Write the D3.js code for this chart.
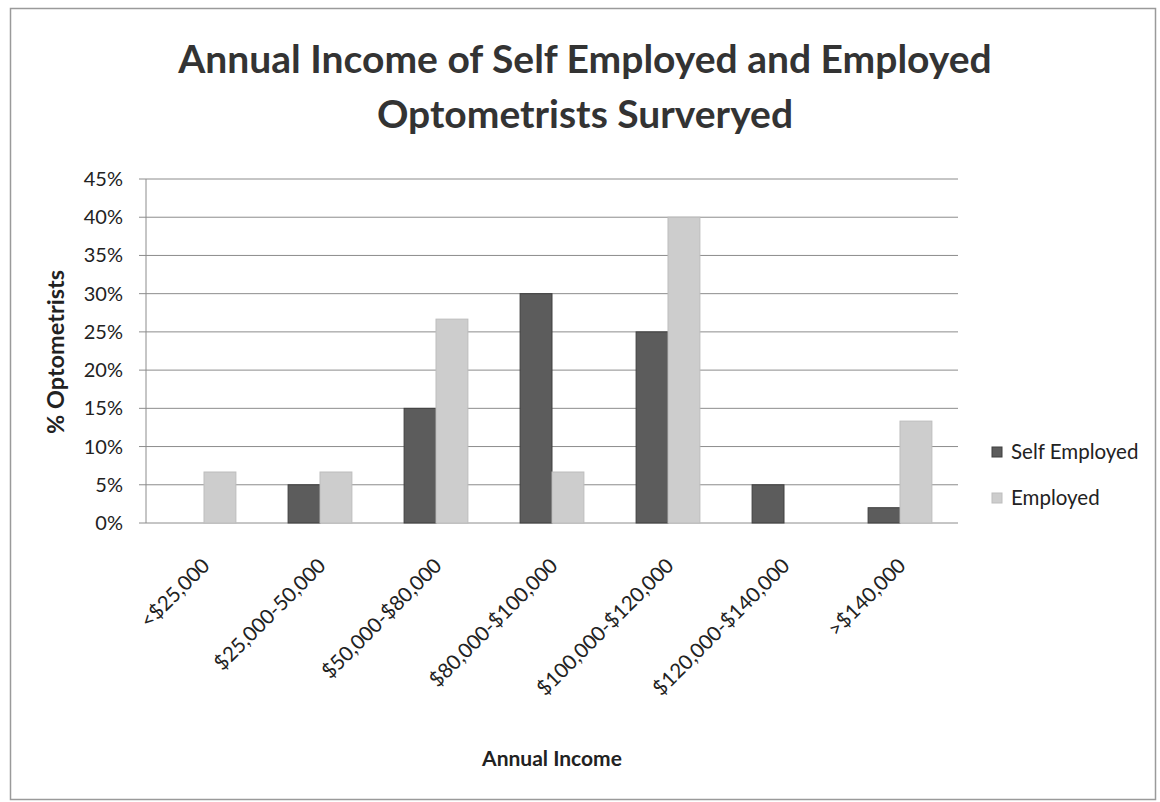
<html>
<head>
<script src="https://d3js.org/d3.v7.min.js"></script>
<style>
    body { margin: 0; background: #fff; }
    text { font-family: Lato, "Open Sans", sans-serif; fill: #222; }
</style>
</head>
<body>
</body>
<script>
    var width = 1160, height = 802;
    var plot = {left: 146, right: 958, top: 179, bottom: 523};

    // data
    let categories = ["<$25,000", "$25,000-50,000", "$50,000-$80,000", "$80,000-$100,000",
                      "$100,000-$120,000", "$120,000-$140,000", ">$140,000"];
    let seriesNames = ["Self Employed", "Employed"];
    let selfEmployed = [0, 5, 15, 30, 25, 5, 2];
    let employed = [6.67, 6.67, 26.67, 6.67, 40, 0, 13.33];
    let yTicks = [0, 5, 10, 15, 20, 25, 30, 35, 40, 45];

    let colors = {"Self Employed": "#5c5c5c", "Employed": "#cdcdcd"};
    let strokes = {"Self Employed": "#3f3f3f", "Employed": "#bdbdbd"};

    let rows = categories.map((c, i) => ({cat: c, "Self Employed": selfEmployed[i], "Employed": employed[i]}));

    let svg = d3.select("body").append("svg")
        .attr("width", width)
        .attr("height", height);

    // outer frame
    svg.append("rect")
        .attr("x", 10.5).attr("y", 8.5)
        .attr("width", 1145).attr("height", 791)
        .attr("fill", "none")
        .attr("stroke", "#9a9a9a")
        .attr("stroke-width", 1.5);

    let x0 = d3.scaleBand()
        .domain(categories)
        .range([plot.left, plot.right])
        .paddingInner(0.45)
        .paddingOuter(0.225);

    let x1 = d3.scaleBand()
        .domain(seriesNames)
        .range([0, x0.bandwidth()]);

    let y = d3.scaleLinear()
        .domain([0, 45])
        .range([plot.bottom, plot.top]);

    // gridlines + tick marks
    yTicks.forEach(t =>
        svg.append("line")
            .attr("x1", plot.left - 7)
            .attr("x2", plot.right)
            .attr("y1", y(t))
            .attr("y2", y(t))
            .attr("stroke", "#8c8c8c")
            .attr("stroke-width", 1)
    );

    // y axis line
    svg.append("line")
        .attr("x1", plot.left).attr("x2", plot.left)
        .attr("y1", plot.top).attr("y2", plot.bottom)
        .attr("stroke", "#8c8c8c");

    // y tick labels
    svg.selectAll(".ylab")
        .data(yTicks)
        .enter().append("text")
        .attr("x", 123)
        .attr("y", d => y(d))
        .attr("dy", "0.35em")
        .attr("text-anchor", "end")
        .style("font-size", "20px")
        .text(d => d + "%");

    // bars
    let groups = svg.selectAll(".grp")
        .data(rows)
        .enter().append("g")
        .attr("transform", d => "translate(" + x0(d.cat) + ",0)");

    groups.selectAll("rect")
        .data(d => seriesNames.map(s => ({key: s, value: d[s]})))
        .enter().append("rect")
        .filter(d => d.value > 0)
        .attr("x", d => x1(d.key))
        .attr("y", d => y(d.value))
        .attr("width", x1.bandwidth())
        .attr("height", d => y(0) - y(d.value))
        .attr("fill", d => colors[d.key])
        .attr("stroke", d => strokes[d.key])
        .attr("stroke-width", 1);

    // x labels, rotated
    svg.selectAll(".xlab")
        .data(categories)
        .enter().append("text")
        .attr("text-anchor", "end")
        .attr("transform", d => "translate(" + (x0(d) + x0.bandwidth() / 2 + 7) + "," + (plot.bottom + 44) + ") rotate(-45)")
        .style("font-size", "20.5px")
        .text(d => d);

    // axis titles
    svg.append("text")
        .attr("x", (plot.left + plot.right) / 2)
        .attr("y", 766)
        .attr("text-anchor", "middle")
        .style("font-size", "21px")
        .style("font-weight", "bold")
        .text("Annual Income");

    svg.append("text")
        .attr("transform", "translate(64,352) rotate(-90)")
        .attr("text-anchor", "middle")
        .style("font-size", "23.5px")
        .style("font-weight", "bold")
        .text("% Optometrists");

    // title
    let titleLines = ["Annual Income of Self Employed and Employed", "Optometrists Surveryed"];
    titleLines.forEach((t, i) =>
        svg.append("text")
            .attr("x", 585)
            .attr("y", 73 + i * 55)
            .attr("text-anchor", "middle")
            .style("font-size", "39px")
            .style("font-weight", "bold")
            .style("fill", "#333")
            .text(t)
    );

    // legend
    seriesNames.forEach((s, i) => {
        let ly = 452 + i * 46;
        svg.append("rect")
            .attr("x", 992).attr("y", ly - 5)
            .attr("width", 10).attr("height", 10)
            .attr("fill", colors[s])
            .attr("stroke", strokes[s]);
        svg.append("text")
            .attr("x", 1011)
            .attr("y", ly)
            .attr("dy", "0.35em")
            .style("font-size", "20.5px")
            .text(s);
    });
</script>
</html>
